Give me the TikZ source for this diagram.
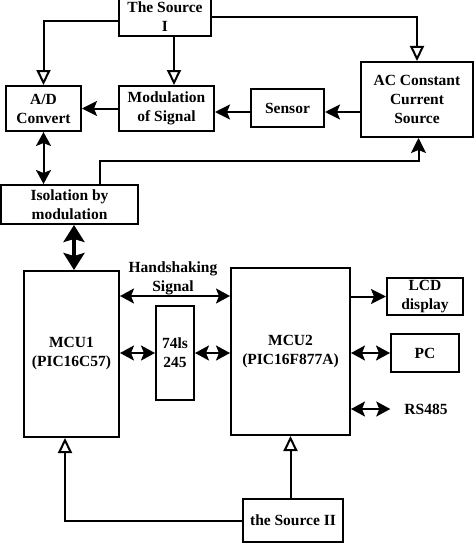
\documentclass[tikz,border=0pt]{standalone}
\usepackage{fontspec}
\setmainfont{Liberation Serif}
\usetikzlibrary{arrows.meta,calc}
\begin{document}
\begin{tikzpicture}[x=1pt,y=-1pt,
  blk/.style={draw,line width=2pt,inner sep=0pt,align=center,font=\fontsize{15.5}{19}\selectfont\bfseries},
  lbl/.style={inner sep=0pt,align=center,font=\fontsize{15.5}{19}\selectfont\bfseries},
  conn/.style={line width=2pt},
  fa/.style={conn,-{Stealth[length=15pt,width=15pt,inset=3pt]}},
  dfa/.style={conn,{Stealth[length=14pt,width=15pt,inset=3pt]}-{Stealth[length=14pt,width=15pt,inset=3pt]}},
  oa/.style={conn,-{Triangle[open,length=15pt,width=14pt,line width=2pt]}},
  thick2/.style={line width=3.5pt,{Stealth[length=17pt,width=21pt,inset=3pt]}-{Stealth[length=17pt,width=21pt,inset=3pt]}}]
\useasboundingbox (0,0) rectangle (474,543);
\node[blk,minimum width=92pt,minimum height=38pt] (srcI) at (165,17) {The Source\\I};
\node[blk,minimum width=75pt,minimum height=45pt] (ad) at (43.5,108.5) {A/D\\Convert};
\node[blk,minimum width=95pt,minimum height=45pt] (mod) at (166.5,108.5) {Modulation\\of Signal};
\node[blk,minimum width=73pt,minimum height=38pt] (sensor) at (287.5,108) {Sensor};
\node[blk,minimum width=112pt,minimum height=75pt] (ac) at (417,99.5) {AC Constant\\Current\\Source};
\node[blk,minimum width=137pt,minimum height=39pt] (iso) at (69.5,204.5) {Isolation by\\modulation};
\node[blk,minimum width=95pt,minimum height=166pt] (mcu1) at (71.5,354) {MCU1\\(PIC16C57)};
\node[blk,minimum width=119pt,minimum height=167pt] (mcu2) at (290.5,351.5) {MCU2\\(PIC16F877A)};
\node[blk,minimum width=38pt,minimum height=94pt] (ls) at (175,353) {74ls\\245};
\node[blk,minimum width=76pt,minimum height=37pt] (lcd) at (425,296.5) {LCD\\display};
\node[blk,minimum width=68pt,minimum height=38pt] (pc) at (425,353) {PC};
\node[lbl] (rs) at (426,409) {RS485};
\node[blk,minimum width=100pt,minimum height=43pt] (srcII) at (293,520.5) {the Source II};
\node[lbl] (hs) at (173,278) {Handshaking\\Signal};
\coordinate (bend) at (418.5,161);
\coordinate (senW) at ([yshift=-4pt]sensor.west);
\coordinate (senE) at ([yshift=-4pt]sensor.east);
% top connectors
\draw[oa] ([yshift=-4pt]srcI.west) -| (ad.north);
\draw[oa] ([xshift=9pt]srcI.south) -- ([xshift=9pt]srcI.south |- mod.north);
\draw[oa] (srcI.east) -| (ac.north);
\draw[fa] (mod.west) -- (mod.west -| ad.east);
\draw[fa] (senW) -- (senW -| mod.east);
\draw[fa] (senE -| ac.west) -- (senE);
\draw[dfa] (ad.south) -- (ad.south |- iso.north);
\draw[fa] ([xshift=30pt]iso.north) |- (bend) -- (bend |- ac.south);
\draw[thick2] ([xshift=4.5pt]iso.south) -- ([xshift=4.5pt]iso.south |- mcu1.north);
% lower connectors
\draw[dfa] ([yshift=-26pt]mcu1.north east) -- ([yshift=-26pt]mcu1.north east -| mcu2.west);
\draw[dfa] (ls.west -| mcu1.east) -- (ls.west);
\draw[dfa] (ls.east) -- (ls.east -| mcu2.west);
\draw[fa] (lcd.west -| mcu2.east) -- (lcd.west);
\draw[dfa] (pc.west -| mcu2.east) -- (pc.west);
\draw[dfa] (rs.west -| mcu2.east) -- ([xshift=-14pt]rs.west);
\draw[oa] (srcII.north -| mcu2.south) -- (mcu2.south);
\draw[oa] (srcII.west) -| ([xshift=-6.5pt]mcu1.south);
\end{tikzpicture}
\end{document}
